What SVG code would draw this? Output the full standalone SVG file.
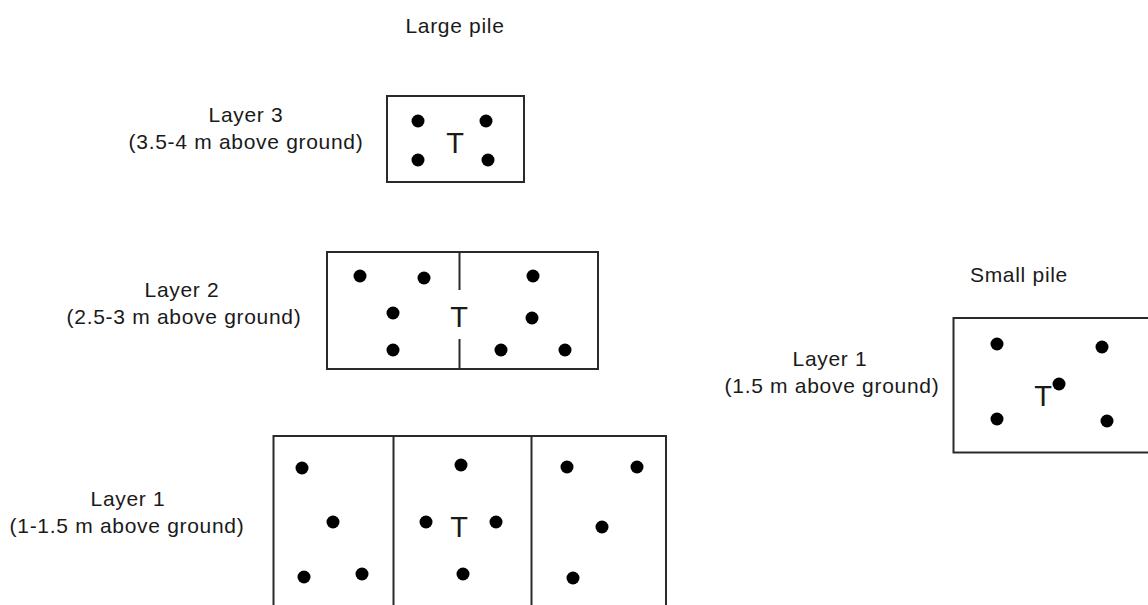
<svg xmlns="http://www.w3.org/2000/svg" width="1148" height="605" viewBox="0 0 1148 605">
<style>
.lbl{font-family:"Liberation Sans",Arial,sans-serif;font-size:21px;letter-spacing:0.7px;fill:#1a1a1a;text-anchor:middle}
.t{font-family:"Liberation Sans",Arial,sans-serif;font-size:29px;fill:#1a1a1a;text-anchor:middle}
.box{fill:none;stroke:#2a2a2a;stroke-width:2}
.ln{stroke:#2a2a2a;stroke-width:2}
.dot{fill:#000}
</style>
<rect width="1148" height="605" fill="#fff"/>
<g id="title-large"><text class="lbl" x="455" y="33">Large pile</text></g>
<g id="title-small"><text class="lbl" x="1019" y="282">Small pile</text></g>

<g id="label-layer3">
<text class="lbl" x="246" y="122">Layer 3</text>
<text class="lbl" x="246" y="149">(3.5-4 m above ground)</text>
</g>
<g id="label-layer2">
<text class="lbl" x="182" y="297">Layer 2</text>
<text class="lbl" x="184" y="324">(2.5-3 m above ground)</text>
</g>
<g id="label-layer1">
<text class="lbl" x="128" y="506">Layer 1</text>
<text class="lbl" x="127" y="533">(1-1.5 m above ground)</text>
</g>
<g id="label-small-layer1">
<text class="lbl" x="830" y="366">Layer 1</text>
<text class="lbl" x="832" y="393">(1.5 m above ground)</text>
</g>

<g id="layer3">
<rect class="box" x="387" y="96" width="137" height="86"/>
<circle class="dot" cx="418" cy="121" r="6.5"/>
<circle class="dot" cx="486" cy="121" r="6.5"/>
<circle class="dot" cx="418" cy="160" r="6.5"/>
<circle class="dot" cx="488" cy="160" r="6.5"/>
<text class="t" x="455" y="153">T</text>
</g>

<g id="layer2">
<rect class="box" x="327" y="252" width="271" height="117"/>
<line class="ln" x1="459.5" y1="252" x2="459.5" y2="290"/>
<line class="ln" x1="459.5" y1="339" x2="459.5" y2="369"/>
<circle class="dot" cx="360" cy="276" r="6.5"/>
<circle class="dot" cx="424" cy="278" r="6.5"/>
<circle class="dot" cx="533" cy="276" r="6.5"/>
<circle class="dot" cx="393" cy="313" r="6.5"/>
<circle class="dot" cx="532" cy="318" r="6.5"/>
<circle class="dot" cx="393" cy="350" r="6.5"/>
<circle class="dot" cx="501" cy="350" r="6.5"/>
<circle class="dot" cx="565" cy="350" r="6.5"/>
<text class="t" x="459" y="327">T</text>
</g>

<g id="layer1">
<path class="box" d="M273.5,607 V436 H666 V607 M393.5,436 V607 M531.5,436 V607"/>
<circle class="dot" cx="302" cy="468" r="6.5"/>
<circle class="dot" cx="333" cy="522" r="6.5"/>
<circle class="dot" cx="304" cy="577" r="6.5"/>
<circle class="dot" cx="362" cy="574" r="6.5"/>
<circle class="dot" cx="461" cy="465" r="6.5"/>
<circle class="dot" cx="426" cy="522" r="6.5"/>
<circle class="dot" cx="496" cy="522" r="6.5"/>
<circle class="dot" cx="463" cy="574" r="6.5"/>
<circle class="dot" cx="567" cy="467" r="6.5"/>
<circle class="dot" cx="637" cy="467" r="6.5"/>
<circle class="dot" cx="602" cy="527" r="6.5"/>
<circle class="dot" cx="573" cy="578" r="6.5"/>
<text class="t" x="459" y="537">T</text>
</g>

<g id="small-layer1">
<path class="box" d="M1150,318 H953.5 V452.5 H1150"/>
<circle class="dot" cx="997" cy="344" r="6.5"/>
<circle class="dot" cx="1102" cy="347" r="6.5"/>
<circle class="dot" cx="1059" cy="384" r="6.5"/>
<circle class="dot" cx="997" cy="419" r="6.5"/>
<circle class="dot" cx="1107" cy="421" r="6.5"/>
<text class="t" x="1043" y="406">T</text>
</g>
</svg>
